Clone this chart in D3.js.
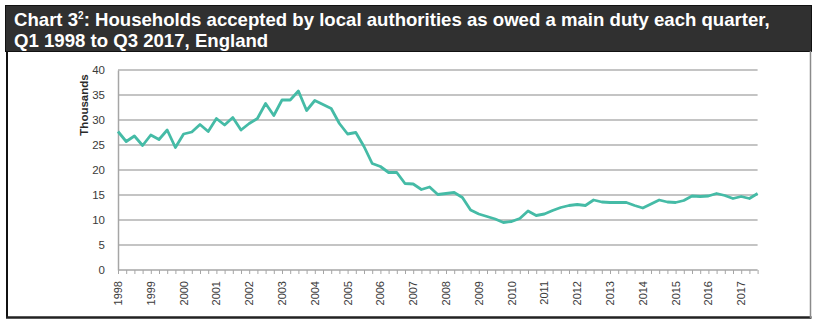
<!DOCTYPE html>
<html>
<head>
<meta charset="utf-8">
<script src="https://cdn.jsdelivr.net/npm/d3@7"></script>
<style>
  html, body { margin: 0; padding: 0; background: #ffffff; }
  svg { display: block; font-family: "Liberation Sans", Arial, sans-serif; }
</style>
</head>
<body>
<svg id="chart" width="819" height="328"></svg>
<script>
// Quarterly acceptances (thousands), Q1 1998 .. Q3 2017
const years = d3.range(1998, 2018);
const quarters = [];
years.forEach(y => [1, 2, 3, 4].forEach(q => { if (y < 2017 || q <= 3) quarters.push(y + " Q" + q); }));

const acceptances = [
  27.7, 25.7, 26.8, 24.9,   // 1998
  27.0, 26.1, 28.0, 24.5,   // 1999
  27.2, 27.6, 29.1, 27.7,   // 2000
  30.3, 29.0, 30.5, 28.0,   // 2001
  29.3, 30.3, 33.3, 30.9,   // 2002
  34.0, 34.0, 35.8, 31.9,   // 2003
  33.9, 33.1, 32.3, 29.3,   // 2004
  27.2, 27.5, 24.7, 21.3,   // 2005
  20.7, 19.5, 19.5, 17.3,   // 2006
  17.2, 16.1, 16.6, 15.1,   // 2007
  15.3, 15.5, 14.5, 12.0,   // 2008
  11.2, 10.7, 10.2, 9.5,    // 2009
  9.7, 10.3, 11.8, 10.9,    // 2010
  11.2, 11.9, 12.5, 12.9,   // 2011
  13.1, 12.9, 14.0, 13.6,   // 2012
  13.5, 13.5, 13.5, 12.9,   // 2013
  12.4, 13.2, 14.0, 13.6,   // 2014
  13.5, 13.9, 14.8, 14.7,   // 2015
  14.8, 15.3, 14.9, 14.3,   // 2016
  14.7, 14.3, 15.3          // 2017
];

const yTicks = [0, 5, 10, 15, 20, 25, 30, 35, 40];
const titleLines = [
  ["Chart 3", "2", ": Households accepted by local authorities as owed a main duty each quarter,"],
  ["Q1 1998 to Q3 2017, England"]
];
const yAxisTitle = "Thousands";

const svg = d3.select("#chart");

// Heading bar
svg.append("rect")
  .attr("x", 5.5).attr("y", 5.5).attr("width", 806).attr("height", 46)
  .attr("fill", "#303030").attr("stroke", "#111111").attr("stroke-width", 1);

const head = svg.append("text")
  .attr("fill", "#ffffff")
  .attr("font-weight", "bold")
  .attr("font-size", 18.6);
const l1 = head.append("tspan").attr("x", 14).attr("y", 25.5);
l1.append("tspan").text(titleLines[0][0]);
l1.append("tspan").attr("font-size", 10).attr("dy", -7).text(titleLines[0][1]);
l1.append("tspan").attr("dy", 7).text(titleLines[0][2]);
head.append("tspan").attr("x", 14).attr("y", 46.5).text(titleLines[1][0]);

// Chart panel frame
svg.append("line").attr("x1", 7).attr("x2", 7).attr("y1", 51).attr("y2", 318)
  .attr("stroke", "#111111").attr("stroke-width", 2);
svg.append("line").attr("x1", 6).attr("x2", 811.5).attr("y1", 317.5).attr("y2", 317.5)
  .attr("stroke", "#222222").attr("stroke-width", 2.5);
svg.append("line").attr("x1", 810.5).attr("x2", 810.5).attr("y1", 51).attr("y2", 318)
  .attr("stroke", "#8a8a8a").attr("stroke-width", 1.5);

// Scales
const plot = { left: 118, right: 757.6, top: 70, bottom: 270 };
const x = d3.scalePoint().domain(quarters).range([plot.left, plot.right]);
const y = d3.scaleLinear().domain([0, 40]).range([plot.bottom, plot.top]);

// Horizontal gridlines
svg.append("g").selectAll("line")
  .data(yTicks.filter(d => d > 0))
  .join("line")
  .attr("x1", plot.left).attr("x2", plot.right)
  .attr("y1", d => y(d)).attr("y2", d => y(d))
  .attr("stroke", "#c4c4c4").attr("stroke-width", 2);

// Y axis
const yAxis = svg.append("g")
  .attr("transform", `translate(${plot.left},0)`)
  .call(d3.axisLeft(y).tickValues(yTicks).tickSize(0).tickPadding(13));
yAxis.select(".domain").attr("stroke", "#a6a6a6").attr("stroke-width", 1.5);
yAxis.selectAll("text")
  .attr("font-size", 11.5).attr("fill", "#3a3a3a")
  .attr("font-family", "\"Liberation Sans\", Arial, sans-serif");

// X axis with a tick at every quarter, labels at each year's Q1
const xAxis = svg.append("g")
  .attr("transform", `translate(0,${plot.bottom})`)
  .call(d3.axisBottom(x).tickSize(4).tickFormat(""));
xAxis.select(".domain").attr("stroke", "#a6a6a6").attr("stroke-width", 1.5)
  .attr("d", `M${plot.left},0H${plot.right}`);
xAxis.selectAll(".tick line").attr("stroke", "#a6a6a6").attr("stroke-width", 1);

svg.append("g").selectAll("text")
  .data(years)
  .join("text")
  .attr("transform", d => `translate(${x(d + " Q1") + 4},281) rotate(-90)`)
  .attr("text-anchor", "end")
  .attr("font-size", 11)
  .attr("fill", "#3a3a3a")
  .text(d => d);

// Y axis title
svg.append("text")
  .attr("transform", "translate(88,105) rotate(-90)")
  .attr("text-anchor", "middle")
  .attr("font-size", 11.5)
  .attr("font-weight", "bold")
  .attr("fill", "#2a2a2a")
  .text(yAxisTitle);

// Series line
const line = d3.line()
  .x((d, i) => x(quarters[i]))
  .y(d => y(d));

svg.append("path")
  .datum(acceptances)
  .attr("fill", "none")
  .attr("stroke", "#45bba6")
  .attr("stroke-width", 2.8)
  .attr("stroke-linejoin", "round")
  .attr("d", line);
</script>
</body>
</html>
